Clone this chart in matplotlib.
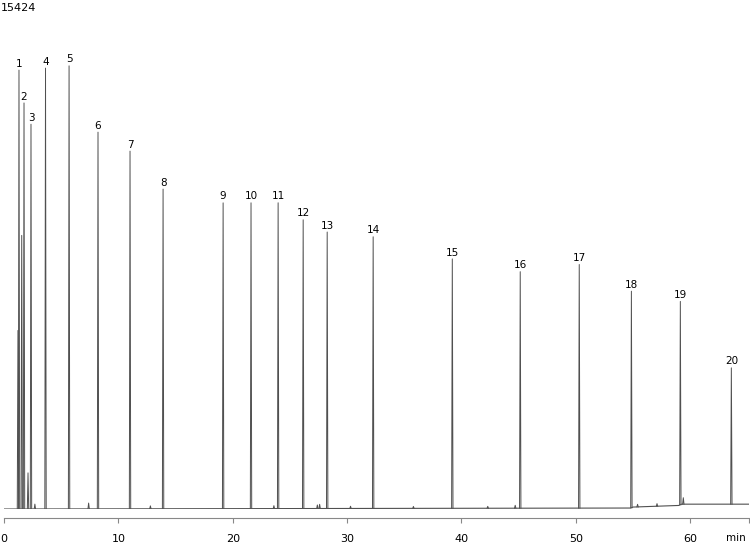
import numpy as np
import matplotlib.pyplot as plt

#%% Data

# labelled peaks: retention time (min) and height (counts)
peak_no = list(range(1, 21))
peak_time = [1.31, 1.75, 2.36, 3.63, 5.69, 8.22, 11.02, 13.91, 19.16, 21.6,
             23.97, 26.16, 28.26, 32.28, 39.2, 45.14, 50.3, 54.86, 59.14, 63.6]
peak_height = [13620, 12600, 11940, 13680, 13750, 11690, 11100, 9920, 9490, 9490,
               9490, 8960, 8580, 8430, 7740, 7340, 7560, 6720, 6310, 4230]

# unlabelled small peaks
minor_time = [1.22, 1.55, 2.1, 2.7, 7.4, 12.8, 23.6, 27.4, 27.6, 30.3,
              35.8, 42.3, 44.7, 55.4, 57.1, 59.4]
minor_height = [5540, 8490, 1120, 150, 180, 90, 90, 110, 130, 70,
                60, 60, 90, 80, 80, 200]

# baseline drift
base_time = [0, 54.8, 55.0, 59.0, 59.25, 65.1]
base_level = [0, 30, 60, 110, 150, 150]

y_max = 15424
t_end = 65.1

#%% Plot

fig = plt.figure(figsize=(7.5, 5.44), dpi=100)
ax = fig.add_axes([4/750, 35/544, 744.5/750, 497/544])

trace_col = '#505050'
w = 0.06
all_t = peak_time + minor_time
all_h = peak_height + minor_height
for t, h in zip(all_t, all_h):
    b = np.interp(t, base_time, base_level)
    ax.plot([t - w, t, t + w], [b, b + h, b], color=trace_col, lw=0.7)
ax.plot(base_time, base_level, color=trace_col, lw=0.8)

for n, t, h in zip(peak_no, peak_time, peak_height):
    b = np.interp(t, base_time, base_level)
    ax.annotate(str(n), (t, b + h), xytext=(0, 1), textcoords='offset points',
                ha='center', va='bottom', fontsize=7.5)

ax.set_xlim(0, t_end)
ax.set_ylim(0, y_max)
for s in ['left', 'right', 'top']:
    ax.spines[s].set_visible(False)
ax.spines['bottom'].set_position(('outward', 6.5))
ax.spines['bottom'].set_color('#888888')
ax.spines['bottom'].set_linewidth(0.8)
ax.set_yticks([])
ax.set_xticks([0, 10, 20, 30, 40, 50, 60, t_end])
ax.set_xticklabels(['0', '10', '20', '30', '40', '50', '60', ''])
ax.tick_params(axis='x', direction='out', length=3.6, width=0.8, color='#888888',
               pad=8, labelsize=8)
ax.annotate('min', (1, 0), xycoords='axes fraction', xytext=(-3, -29),
            textcoords='offset pixels', ha='right', va='center', fontsize=7.5)

fig.text(1/750, 1 - 8/544, '15424', ha='left', va='center', fontsize=8)

fig.savefig('out.png', dpi=100)
